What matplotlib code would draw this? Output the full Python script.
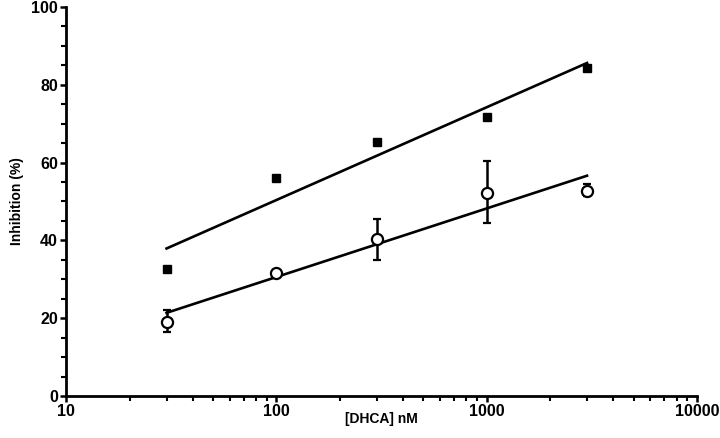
import matplotlib
matplotlib.use("Agg")
import matplotlib.pyplot as plt
import numpy as np
from matplotlib.ticker import FixedLocator, NullFormatter

plt.rcParams["font.family"] = ["Liberation Sans", "DejaVu Sans"]
plt.rcParams["font.weight"] = "bold"

conc = [30, 100, 300, 1000, 3000]
squares = [32.6, 56.0, 65.3, 71.7, 84.3]
circles = [19.0, 31.6, 40.3, 52.3, 52.6]
circle_err_lo = [2.6, 0.6, 5.3, 7.8, 1.2]
circle_err_hi = [3.0, 0.6, 5.3, 8.0, 1.8]

x_ticks = [10, 100, 1000, 10000]
x_labels = ["10", "100", "1000", "10000"]
y_ticks = [0, 20, 40, 60, 80, 100]


def fit_line(x, y):
    lx = np.log10(x)
    k, b = np.polyfit(lx, y, 1)
    return k * lx + b


fig = plt.figure(figsize=(7.2, 4.38), dpi=100)
ax = fig.add_axes([0.092, 0.096, 0.876, 0.888])

ax.plot(conc, fit_line(conc, squares), color="black", lw=1.9, zorder=2)
ax.plot(conc, fit_line(conc, circles), color="black", lw=1.9, zorder=2)

ax.plot(conc, squares, linestyle="none", marker="s", ms=6.3,
        color="black", zorder=3)
ax.errorbar(conc, circles, yerr=[circle_err_lo, circle_err_hi],
            fmt="o", ms=8, mfc="white", mec="black", mew=1.6,
            ecolor="black", elinewidth=1.8, capsize=3.2, capthick=1.8,
            zorder=4)

ax.set_xscale("log")
ax.set_xlim(10, 10000)
ax.set_ylim(0, 100)
ax.xaxis.set_major_locator(FixedLocator(x_ticks))
ax.set_xticklabels(x_labels)
minor = [m * d for d in [10, 100, 1000] for m in range(2, 10)]
ax.xaxis.set_minor_locator(FixedLocator(minor))
ax.xaxis.set_minor_formatter(NullFormatter())
ax.set_yticks(y_ticks)
ax.yaxis.set_minor_locator(FixedLocator(range(0, 101, 5)))

for s in ["top", "right"]:
    ax.spines[s].set_visible(False)
for s in ["left", "bottom"]:
    ax.spines[s].set_linewidth(2.0)

ax.tick_params(which="major", length=4, width=1.8, labelsize=11.5, pad=2)
ax.tick_params(which="minor", length=3.5, width=1.5)

ax.set_ylabel("Inhibition (%)", fontsize=10, fontweight="bold", labelpad=5)
ax.set_xlabel("[DHCA] nM", fontsize=10, fontweight="bold", labelpad=-5)

fig.savefig("out.png", dpi=100)
